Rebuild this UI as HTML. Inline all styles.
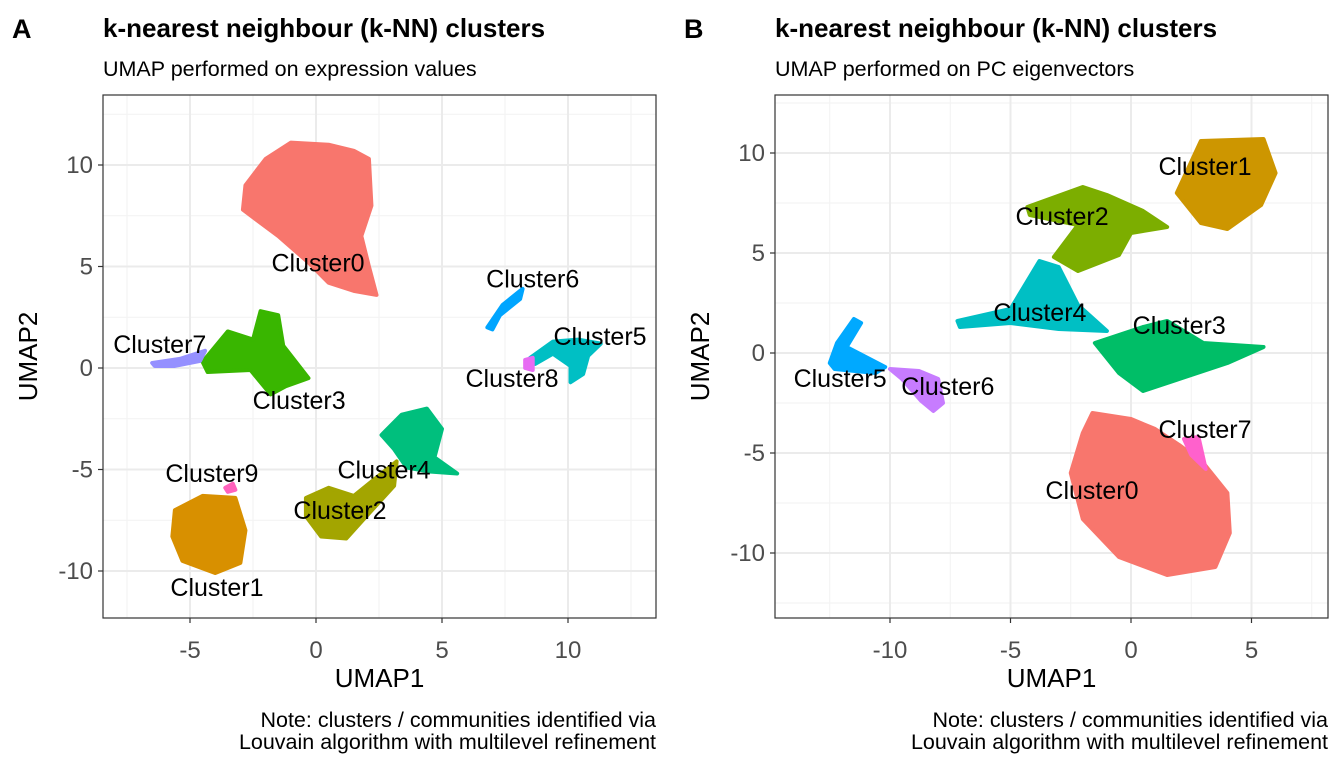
<!DOCTYPE html>
<html><head><meta charset="utf-8"><style>
body{margin:0;background:#fff;width:1344px;height:768px;overflow:hidden;font-family:"Liberation Sans",sans-serif}
svg text{font-family:"Liberation Sans",sans-serif}
</style></head><body>
<svg id="chart" width="1344" height="768" xmlns="http://www.w3.org/2000/svg"></svg>
<script>
// ---- Panel A data ----
const aNames = ["Cluster0","Cluster1","Cluster2","Cluster3","Cluster4","Cluster5","Cluster6","Cluster7","Cluster8","Cluster9"];
const aColors = ["#F8766D","#D89000","#A3A500","#39B600","#00BF7D","#00BFC4","#00A5FF","#9590FF","#E76BF3","#FF62BC"];
const aShapes = [
 [[-2.8,9],[-2,10.3],[-1,11.1],[0.5,11],[1.5,10.7],[2.1,10.3],[2.2,8],[1.8,6.5],[2.1,5],[2.4,3.6],[1.5,3.8],[0.5,4.2],[-0.3,5.2],[-1.5,6.5],[-2.9,7.8]],
 [[-5.6,-7],[-4.5,-6.3],[-3.2,-6.4],[-2.8,-8],[-3,-9.6],[-4,-10.1],[-5.3,-9.5],[-5.7,-8.3]],
 [[-0.4,-6.4],[0.5,-5.9],[1.5,-6.3],[2.5,-5.3],[3.2,-4.6],[3.1,-5.8],[2,-7.3],[1.2,-8.4],[0.2,-8.3],[-0.4,-7.3]],
 [[-4.5,0.3],[-3.5,1.8],[-2.5,1.4],[-2.2,2.8],[-1.5,2.6],[-1.3,1.1],[-0.3,-0.5],[-1.2,-0.9],[-1.8,-1.3],[-2.6,-0.1],[-4.3,-0.2]],
 [[2.6,-3.3],[3.4,-2.3],[4.4,-2],[5,-3],[4.7,-4.4],[5.6,-5.2],[4.5,-5.1],[3.6,-4.9],[3.1,-4]],
 [[8.5,0.5],[9.4,1.3],[10.4,1.4],[11.3,1.2],[10.8,0.6],[10.6,-0.3],[10.1,-0.7],[10.1,0.1],[9.4,0.7],[8.7,0.2]],
 [[6.8,2],[7.4,3.1],[8.2,3.9],[8.1,3.4],[7.3,2.6],[7.0,1.9]],
 [[-6.5,0.25],[-5.4,0.45],[-4.4,0.85],[-4.6,0.35],[-5.6,0.1],[-6.4,0.1]],
 [[8.3,0.4],[8.6,0.5],[8.6,-0.1],[8.3,0.0]],
 [[-3.6,-5.9],[-3.3,-5.7],[-3.2,-6.0],[-3.5,-6.1]]
];
const aLabels = [[0.08,5.2],[-3.93,-10.8],[0.95,-7.0],[-0.67,-1.58],[2.7,-5.0],[11.27,1.58],[8.6,4.4],[-6.2,1.18],[7.78,-0.5],[-4.13,-5.17]];
const aXTicks = [-5,0,5,10], aYTicks = [-10,-5,0,5,10];
// ---- Panel B data ----
const bNames = ["Cluster0","Cluster1","Cluster2","Cluster3","Cluster4","Cluster5","Cluster6","Cluster7"];
const bColors = ["#F8766D","#CD9600","#7CAE00","#00BE67","#00BFC4","#00A9FF","#C77CFF","#FF61CC"];
const bShapes = [
 [[-2,-4],[-1.6,-3],[0,-3.3],[1,-3.8],[2,-4.6],[3,-5.5],[4,-7],[4.1,-9],[3.5,-10.7],[1.5,-11.1],[-0.5,-10.2],[-2,-8.3],[-2.5,-6]],
 [[1.9,8],[2.9,10.6],[5.5,10.7],[6,9],[5.4,7.4],[4,6.2],[2.9,6.5]],
 [[-4.3,7.3],[-2,8.3],[-1,7.9],[0.5,7.1],[1.5,6.3],[0,6],[-0.5,4.9],[-2.2,4.1],[-3.2,4.8],[-2.2,6.4],[-4.2,6.9]],
 [[-1.5,0.5],[0.5,1.3],[1.5,1.6],[3,0.5],[5.5,0.3],[4,-0.5],[2,-1.3],[0.5,-1.9],[-0.5,-1]],
 [[-7.2,1.6],[-5,2.2],[-3.8,4.6],[-3,4.3],[-2.2,2.4],[-1,1.1],[-3,1.2],[-5,1.5],[-7.1,1.3]],
 [[-12.5,-0.5],[-12.2,0.5],[-11.5,1.7],[-11.2,1.5],[-11.8,0.3],[-10.2,-0.7],[-10.6,-1],[-12.3,-0.8]],
 [[-10,-0.8],[-8.8,-0.9],[-8,-1.3],[-7.8,-2.5],[-8.2,-2.9],[-8.7,-2.4],[-9.5,-1.3]],
 [[2.2,-4.3],[2.8,-4.2],[3.1,-5.8],[2.5,-5.1]]
];
const bLabels = [[-1.62,-6.85],[3.07,9.35],[-2.86,6.85],[2.0,1.4],[-3.78,2.05],[-12.07,-1.25],[-7.6,-1.65],[3.07,-3.8]];
const bXTicks = [-10,-5,0,5], bYTicks = [-10,-5,0,5,10];

const NS="http://www.w3.org/2000/svg", svg=document.getElementById('chart');
function mk(tag,attrs,parent,txt){const e=document.createElementNS(NS,tag);for(const k in attrs)e.setAttribute(k,attrs[k]);if(txt!==undefined)e.textContent=txt;(parent||svg).appendChild(e);return e;}

function panel(p){
  const g=mk('g',{});
  
  
  const X=v=>p.x0px+v*p.xs, Y=v=>p.y0px-v*p.ys;
  const L=p.box[0],T=p.box[1],R=p.box[2],B=p.box[3];
  for(let v=Math.ceil(p.xmin/2.5)*2.5; v<=p.xmax; v+=2.5){ if(v%5!==0) mk('line',{x1:X(v),x2:X(v),y1:T,y2:B,stroke:'#f2f2f2','stroke-width':1},g); }
  for(let v=Math.ceil(p.ymin/2.5)*2.5; v<=p.ymax; v+=2.5){ if(v%5!==0) mk('line',{x1:L,x2:R,y1:Y(v),y2:Y(v),stroke:'#f2f2f2','stroke-width':1},g); }
  p.xt.forEach(v=>{mk('line',{x1:X(v),x2:X(v),y1:T,y2:B,stroke:'#ebebeb','stroke-width':2},g);
    mk('line',{x1:X(v),x2:X(v),y1:B,y2:B+5,stroke:'#333','stroke-width':1.2},g);
    const t=mk('text',{x:X(v),y:B+40,'text-anchor':'middle','font-size':24,fill:'#4d4d4d'},g,String(v));
    
    });
  p.yt.forEach(v=>{mk('line',{x1:L,x2:R,y1:Y(v),y2:Y(v),stroke:'#ebebeb','stroke-width':2},g);
    mk('line',{x1:L-5,x2:L,y1:Y(v),y2:Y(v),stroke:'#333','stroke-width':1.2},g);
    const t=mk('text',{x:L-10,y:Y(v)+8,'text-anchor':'end','font-size':24,fill:'#4d4d4d'},g,String(v));
    
    });
  p.shapes.forEach((s,i)=>{
    const pg=mk('polygon',{points:s.map(q=>X(q[0])+','+Y(q[1])).join(' '),fill:p.colors[i],stroke:p.colors[i],'stroke-width':4,'stroke-linejoin':'round'},g);
    
    
  });
  p.labels.forEach((l,i)=>{
    const t=mk('text',{x:X(l[0]),y:Y(l[1])+9,'text-anchor':'middle','font-size':25,fill:'#000'},g,p.names[i]);
    
    
  });
  mk('rect',{x:L,y:T,width:R-L,height:B-T,fill:'none',stroke:'#333','stroke-width':1.2},g);
  const xl=mk('text',{x:(L+R)/2,y:B+69,'text-anchor':'middle','font-size':26,fill:'#000'},g,'UMAP1');
  
  
  const yl=mk('text',{x:0,y:0,'text-anchor':'middle','font-size':26,fill:'#000',transform:`translate(${L-66},${(T+B)/2}) rotate(-90)`},g,'UMAP2');
  
  
  const tag=mk('text',{x:p.tagx,y:38,'font-size':27,'font-weight':'bold',fill:'#000'},g,p.tag);
  
  
  const ti=mk('text',{x:L,y:37,'font-size':26,'font-weight':'bold',fill:'#000'},g,'k-nearest neighbour (k-NN) clusters');
  
  
  const st=mk('text',{x:L,y:76,'font-size':21.5,fill:'#000'},g,p.sub);
  
  
  const c1=mk('text',{x:R,y:727,'text-anchor':'end','font-size':21.5,fill:'#000'},g,'Note: clusters / communities identified via');
  
  
  const c2=mk('text',{x:R,y:749,'text-anchor':'end','font-size':21.5,fill:'#000'},g,'Louvain algorithm with multilevel refinement');
  
  
}
panel({id:'panel-a',tag:'A',tagx:12,sub:'UMAP performed on expression values',box:[103,95,656,618],x0px:316,xs:25.2,y0px:368,ys:20.3,
  xmin:-8.4,xmax:13.5,ymin:-12.3,ymax:13.4,xt:aXTicks,yt:aYTicks,shapes:aShapes,colors:aColors,names:aNames,labels:aLabels});
panel({id:'panel-b',tag:'B',tagx:684,sub:'UMAP performed on PC eigenvectors',box:[775,95,1328,618],x0px:1131,xs:24.1,y0px:353,ys:20,
  xmin:-14.7,xmax:8.1,ymin:-13.2,ymax:12.9,xt:bXTicks,yt:bYTicks,shapes:bShapes,colors:bColors,names:bNames,labels:bLabels});
</script>
</body></html>
